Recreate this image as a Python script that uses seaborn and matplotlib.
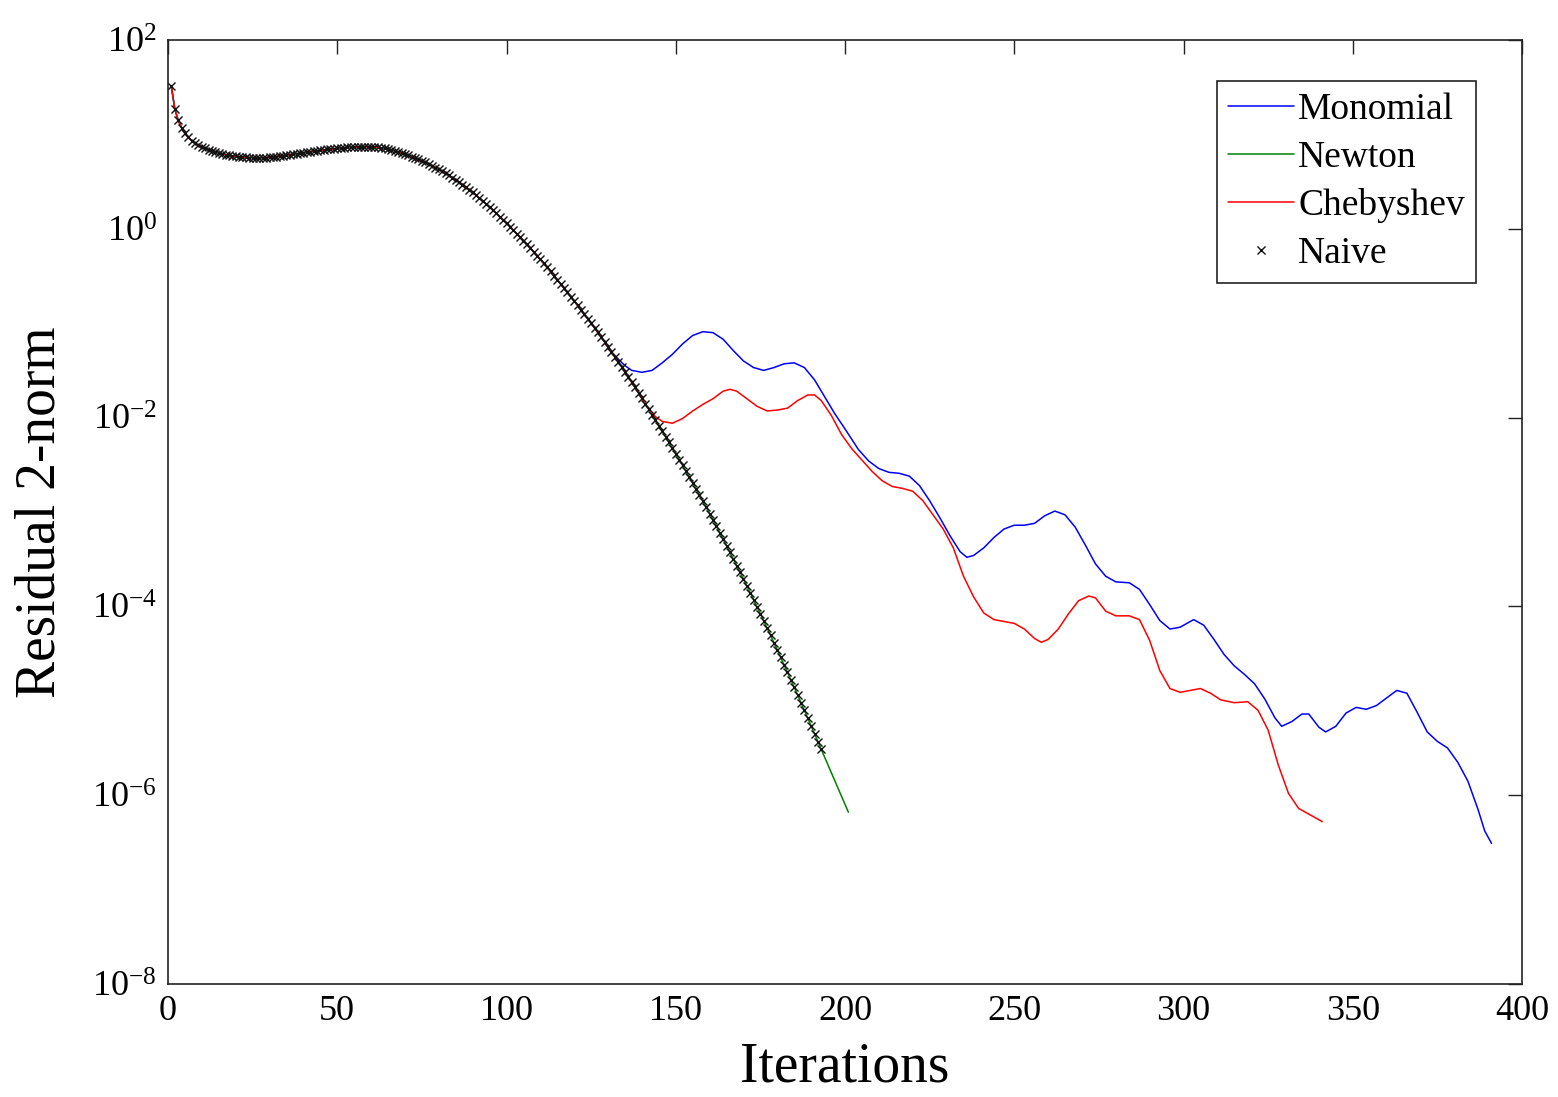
import numpy as np
import pandas as pd
import matplotlib
matplotlib.use("Agg")
import matplotlib.pyplot as plt
import seaborn as sns
from matplotlib.ticker import NullLocator

# ---------------- data (log10 of residual 2-norm) ----------------
# shared convergence history (Naive), iterations 1..193
naive_log = [
    1.51, 1.27, 1.15, 1.07, 1.01, 0.97, 0.935, 0.905, 0.885, 0.87,
    0.855, 0.84, 0.828, 0.816, 0.805, 0.795, 0.786, 0.779, 0.773, 0.768,
    0.764, 0.760, 0.757, 0.755, 0.754, 0.753, 0.753, 0.754, 0.755, 0.757,
    0.761, 0.765, 0.770, 0.775, 0.780, 0.785, 0.790, 0.795, 0.801, 0.806,
    0.811, 0.817, 0.822, 0.827, 0.832, 0.837, 0.841, 0.845, 0.849, 0.853,
    0.856, 0.859, 0.862, 0.865, 0.867, 0.869, 0.870, 0.871, 0.871, 0.870,
    0.866, 0.862, 0.858, 0.852, 0.845, 0.836, 0.826, 0.815, 0.803, 0.790,
    0.777, 0.763, 0.749, 0.735, 0.720, 0.703, 0.686, 0.668, 0.649, 0.630,
    0.609, 0.588, 0.566, 0.543, 0.520, 0.495, 0.469, 0.442, 0.414, 0.385,
    0.355, 0.324, 0.293, 0.262, 0.230, 0.197, 0.163, 0.129, 0.095, 0.060,
    0.024, -0.013, -0.050, -0.087, -0.125, -0.164, -0.204, -0.244, -0.284, -0.325,
    -0.367, -0.409, -0.452, -0.496, -0.540, -0.584, -0.629, -0.674, -0.719, -0.765,
    -0.811, -0.858, -0.905, -0.952, -1.000, -1.049, -1.098, -1.148, -1.199, -1.250,
    -1.302, -1.354, -1.407, -1.461, -1.515, -1.570, -1.625, -1.681, -1.738, -1.795,
    -1.852, -1.910, -1.968, -2.026, -2.085, -2.144, -2.203, -2.263, -2.323, -2.383,
    -2.444, -2.505, -2.567, -2.629, -2.692, -2.756, -2.820, -2.885, -2.950, -3.016,
    -3.083, -3.150, -3.218, -3.287, -3.356, -3.426, -3.496, -3.567, -3.638, -3.710,
    -3.782, -3.855, -3.929, -4.003, -4.078, -4.153, -4.229, -4.306, -4.383, -4.461,
    -4.539, -4.618, -4.697, -4.777, -4.857, -4.938, -5.019, -5.101, -5.183, -5.266,
    -5.349, -5.432, -5.515,
]

# Newton continues past the last Naive point (iterations 194..201)
newton_tail_x = [194, 195, 196, 197, 198, 199, 200, 201]
newton_tail_log = [-5.598, -5.681, -5.764, -5.847, -5.930, -6.013, -6.096, -6.18]

# Monomial follows the shared curve up to iteration 131, then:
mono_split = 131
mono_tail_x = [133, 135, 137, 140, 143, 146, 149, 152, 155, 158, 161, 164, 167, 170,
               173, 176, 179, 182, 185, 188, 191, 194, 197, 200, 204, 207, 210, 213,
               216, 219, 222, 225, 228, 231, 234, 236, 238, 241, 244, 247, 250, 253,
               256, 259, 262, 265, 268, 271, 274, 277, 280, 284, 287, 290, 293, 296,
               299, 303, 306, 309, 312, 315, 318, 321, 324, 327, 329, 332, 335, 337,
               340, 342, 345, 348, 351, 354, 357, 360, 363, 366, 369, 372, 375, 378,
               381, 384, 387, 389, 391]
mono_tail_log = [-1.38, -1.45, -1.50, -1.52, -1.50, -1.42, -1.33, -1.22, -1.13, -1.09,
                 -1.10, -1.17, -1.29, -1.40, -1.47, -1.50, -1.47, -1.43, -1.42, -1.47,
                 -1.60, -1.78, -1.96, -2.12, -2.34, -2.46, -2.54, -2.58, -2.59, -2.62,
                 -2.72, -2.88, -3.06, -3.25, -3.42, -3.48, -3.46, -3.38, -3.27, -3.18,
                 -3.14, -3.14, -3.12, -3.04, -2.99, -3.03, -3.16, -3.35, -3.55, -3.68,
                 -3.74, -3.75, -3.82, -3.98, -4.15, -4.24, -4.22, -4.14, -4.20, -4.35,
                 -4.51, -4.63, -4.72, -4.82, -4.98, -5.18, -5.27, -5.22, -5.14, -5.14,
                 -5.28, -5.33, -5.27, -5.13, -5.07, -5.09, -5.05, -4.97, -4.89, -4.92,
                 -5.12, -5.33, -5.43, -5.50, -5.65, -5.85, -6.15, -6.38, -6.51]

# Chebyshev follows the shared curve up to iteration 138, then:
cheb_split = 138
cheb_tail_x = [140, 142, 144, 146, 149, 152, 155, 158, 161, 164, 166, 168, 171, 174,
               177, 180, 183, 186, 189, 191, 193, 196, 199, 202, 205, 208, 211, 214,
               217, 220, 223, 226, 229, 232, 235, 238, 241, 244, 247, 250, 253, 256,
               258, 260, 263, 266, 269, 272, 274, 277, 280, 284, 287, 290, 293, 296,
               299, 302, 305, 308, 311, 315, 319, 322, 325, 328, 331, 334, 338, 341]
cheb_tail_log = [-1.80, -1.91, -1.99, -2.04, -2.06, -2.01, -1.93, -1.86, -1.80, -1.72,
                 -1.70, -1.72, -1.80, -1.88, -1.93, -1.92, -1.90, -1.82, -1.76, -1.76,
                 -1.82, -1.98, -2.18, -2.33, -2.45, -2.57, -2.67, -2.73, -2.75, -2.78,
                 -2.88, -3.03, -3.18, -3.38, -3.68, -3.90, -4.07, -4.14, -4.16, -4.18,
                 -4.24, -4.34, -4.38, -4.35, -4.24, -4.08, -3.94, -3.89, -3.91, -4.05,
                 -4.10, -4.10, -4.14, -4.36, -4.68, -4.87, -4.91, -4.89, -4.87, -4.92,
                 -4.99, -5.02, -5.01, -5.10, -5.31, -5.68, -5.98, -6.14, -6.22, -6.28]

series_names = ["Monomial", "Newton", "Chebyshev", "Naive"]
series_colors = ["#0000ff", "#008000", "#ff0000", "#000000"]
x_ticks = [0, 50, 100, 150, 200, 250, 300, 350, 400]
y_tick_exps = [-8, -6, -4, -2, 0, 2]

# ---------------- build tables ----------------
naive_x = np.arange(1, len(naive_log) + 1)
naive_df = pd.DataFrame({"it": naive_x, "res": 10.0 ** np.array(naive_log)})
newton_df = pd.DataFrame({"it": np.concatenate([naive_x, newton_tail_x]),
                          "res": 10.0 ** np.concatenate([naive_log, newton_tail_log])})
mono_df = pd.DataFrame({"it": np.concatenate([naive_x[:mono_split], mono_tail_x]),
                        "res": 10.0 ** np.concatenate([naive_log[:mono_split], mono_tail_log])})
cheb_df = pd.DataFrame({"it": np.concatenate([naive_x[:cheb_split], cheb_tail_x]),
                        "res": 10.0 ** np.concatenate([naive_log[:cheb_split], cheb_tail_log])})

# ---------------- style ----------------
sns.set_theme(style="white")
plt.rcParams["font.family"] = ["Liberation Serif", "DejaVu Serif"]
plt.rcParams["mathtext.fontset"] = "custom"
plt.rcParams["mathtext.rm"] = "Liberation Serif"
plt.rcParams["mathtext.it"] = "Liberation Serif:italic"
plt.rcParams["mathtext.bf"] = "Liberation Serif:bold"
plt.rcParams["text.color"] = "black"
plt.rcParams["axes.labelcolor"] = "black"
plt.rcParams["xtick.color"] = "black"
plt.rcParams["ytick.color"] = "black"

fig = plt.figure(figsize=(15.58, 10.97), dpi=100)
ax = fig.add_axes([168 / 1558, 1 - 984 / 1097, (1522 - 168) / 1558, (984 - 40) / 1097])

lw = 1.1
sns.lineplot(data=mono_df, x="it", y="res", ax=ax, color=series_colors[0], lw=lw,
             label=series_names[0], sort=False, estimator=None)
sns.lineplot(data=newton_df, x="it", y="res", ax=ax, color=series_colors[1], lw=lw,
             label=series_names[1], sort=False, estimator=None)
sns.lineplot(data=cheb_df, x="it", y="res", ax=ax, color=series_colors[2], lw=lw,
             label=series_names[2], sort=False, estimator=None)
sns.lineplot(data=naive_df, x="it", y="res", ax=ax, color=series_colors[3],
             linestyle="none", marker="x", markersize=5.5, markeredgewidth=1.0,
             markeredgecolor="#111111", markerfacecolor="#111111",
             label=series_names[3], sort=False, estimator=None)

ax.set_yscale("log")
ax.set_xlim(0, 400)
ax.set_ylim(1e-8, 1e2)
ax.set_xticks(x_ticks)
ax.set_xticklabels([str(t) for t in x_ticks])
ax.set_yticks([10.0 ** e for e in y_tick_exps])
ax.set_yticklabels([r"$\mathregular{10^{%d}}$" % e for e in y_tick_exps])
ax.yaxis.set_minor_locator(NullLocator())
ax.xaxis.set_minor_locator(NullLocator())

ax.tick_params(axis="both", which="major", direction="in", length=10, width=1,
               top=True, right=True, labelsize=26, color="#222222",
               labelcolor="black", pad=8)
for sp in ax.spines.values():
    sp.set_visible(True)
    sp.set_color("#222222")
    sp.set_linewidth(1.2)

ax.set_xlabel("Iterations", fontsize=40, labelpad=10, color="black")
ax.set_ylabel("Residual 2-norm", fontsize=40, labelpad=18, color="black")

leg = ax.legend(loc="upper right", bbox_to_anchor=(1476 / 1558, 1 - 81 / 1097),
                bbox_transform=fig.transFigure, borderaxespad=0, fontsize=27,
                frameon=True, fancybox=False, shadow=False, handlelength=1.75,
                handletextpad=0.12, labelspacing=0.36, borderpad=0.3)
for t in leg.get_texts():
    t.set_color("black")
leg.get_frame().set_edgecolor("#222222")
leg.get_frame().set_linewidth(1.2)
leg.get_frame().set_facecolor("white")
leg.get_frame().set_alpha(1)

fig.savefig("out.png", dpi=100)
